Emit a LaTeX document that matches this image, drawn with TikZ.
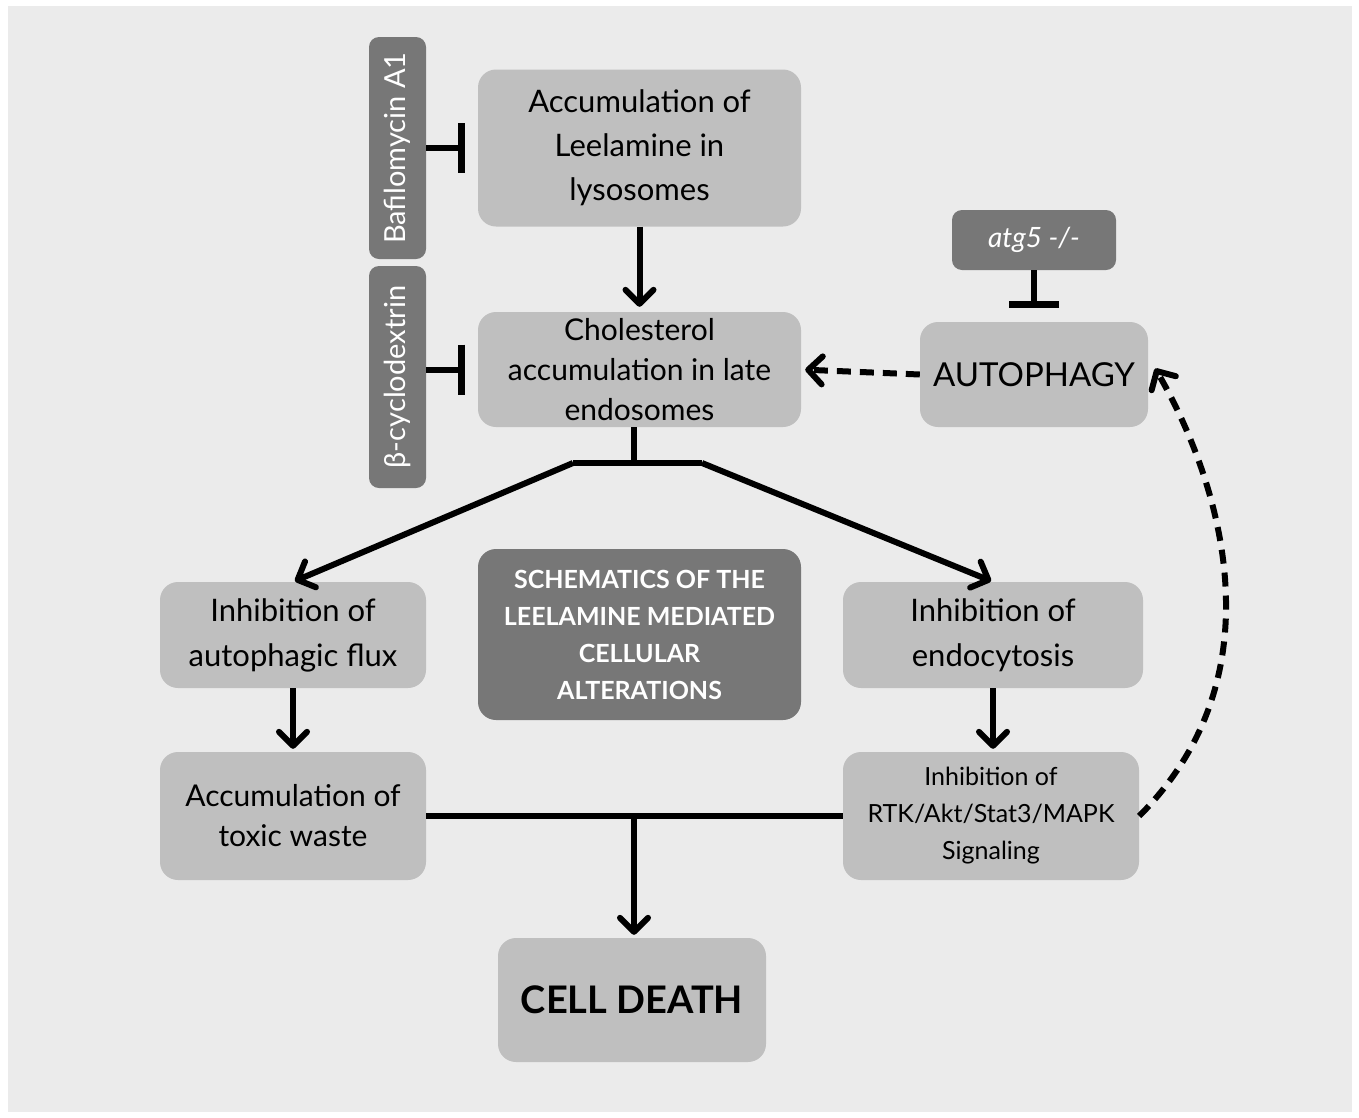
\documentclass[tikz,border=0pt]{standalone}
\usepackage{fontspec}
\setsansfont{Lato}
\usetikzlibrary{arrows.meta,positioning}
\definecolor{bggray}{HTML}{EBEBEB}
\definecolor{boxgray}{HTML}{BFBFBF}
\definecolor{boxdark}{HTML}{777777}

\begin{document}
\begin{tikzpicture}[x=1pt,y=-1pt]
		\tikzset{
			basefont/.style 2 args = {font = \sffamily\fontsize{#1}{#2}\selectfont},
			box/.style = {align = center, inner sep = 0pt, fill = boxgray, rounded corners = 18pt},
			darkbox/.style = {box, fill = boxdark, text = white, rounded corners = 10pt},
			link/.style = {line width = 6pt},
			arr/.style = {link, -{Straight Barb[length=14pt,width=28pt,round]}},
			inhibit/.style = {link, -{Bar[width=50pt,line width=7pt]}},
			dasharr/.style = {arr, dash pattern = on 14pt off 9pt},
		};

		\useasboundingbox (0,0) rectangle (1359,1117);
		\fill[bggray] (8,6) rectangle (1352,1112);

		\node[box, basefont = {31}{44}, minimum width = 323pt, minimum height = 157pt] (acc) at (639.5,148) {Accumulation of\\Leelamine in\\lysosomes};
		\node[box, basefont = {30}{40}, minimum width = 323pt, minimum height = 115pt] (chol) at (639.5,369.5) {Cholesterol\\accumulation in late\\endosomes};
		\node[darkbox, basefont = {29}{36}, rotate = 90, minimum width = 222pt, minimum height = 57pt] (baf) at (397.5,148) {Bafilomycin A1};
		\node[darkbox, basefont = {29}{36}, rotate = 90, minimum width = 222pt, minimum height = 57pt] (cyc) at (397.5,377) {β-cyclodextrin};
		\node[darkbox, basefont = {28}{36}, minimum width = 164pt, minimum height = 60pt] (atg) at (1034,240) {\itshape atg5 -/-};
		\node[box, basefont = {33}{40}, minimum width = 228pt, minimum height = 105pt] (auto) at (1034,374.5) {AUTOPHAGY};
		\node[box, basefont = {31}{45}, minimum width = 266pt, minimum height = 106pt] (flux) at (293,635) {Inhibition of\\autophagic flux};
		\node[box, basefont = {31}{45}, minimum width = 300pt, minimum height = 106pt] (endo) at (993,635) {Inhibition of\\endocytosis};
		\node[darkbox, basefont = {25}{37}, minimum width = 323pt, minimum height = 171pt, rounded corners = 18pt] (title) at (639.5,634.5) {\bfseries SCHEMATICS OF THE\\\bfseries LEELAMINE MEDIATED\\\bfseries CELLULAR\\\bfseries ALTERATIONS};
		\node[box, basefont = {30}{40}, minimum width = 266pt, minimum height = 128pt] (waste) at (293,816) {Accumulation of\\toxic waste};
		\node[box, basefont = {25}{37}, minimum width = 296pt, minimum height = 128pt] (rtk) at (991,816) {Inhibition of\\RTK/Akt/Stat3/MAPK\\Signaling};
		\node[box, basefont = {38}{44}, minimum width = 268pt, minimum height = 124pt] (death) at (632,1000) {\bfseries CELL DEATH};

		\coordinate (split) at (634,463);
		\coordinate (split-left) at (573,463);
		\coordinate (split-right) at (702,463);
		\coordinate (join) at (634,817);

		\draw[inhibit, shorten >= 13pt] (baf.south) -- (acc.west);
		\draw[inhibit, shorten >= 13pt] (cyc.south |- chol) -- (chol.west);
		\draw[inhibit, shorten >= 14pt] (atg.south) -- (auto.north);
		\draw[arr, shorten >= 5pt] (acc.south) -- (chol.north);
		\draw[link] (split |- chol.south) -- (split);
		\draw[link] (split-left) -- (split-right);
		\draw[arr, shorten >= 2pt] (split-left) -- (flux.north);
		\draw[arr, shorten >= 2pt] (split-right) -- (endo.north);
		\draw[arr, shorten >= 3pt] (flux.south) -- (waste.north);
		\draw[arr, shorten >= 3pt] (endo.south) -- (endo.south |- rtk.north);
		\draw[link] (waste.east) -- (rtk.west);
		\draw[arr, shorten >= 3pt] (join) -- (join |- death.north);
		\draw[dasharr, shorten >= 4pt] (auto.west) -- (chol.east);
		\draw[dasharr] (rtk.east) .. controls +(150,-150) and +(55,95) .. ([xshift=7pt,yshift=6pt]auto.east);
	\end{tikzpicture}
\end{document}
